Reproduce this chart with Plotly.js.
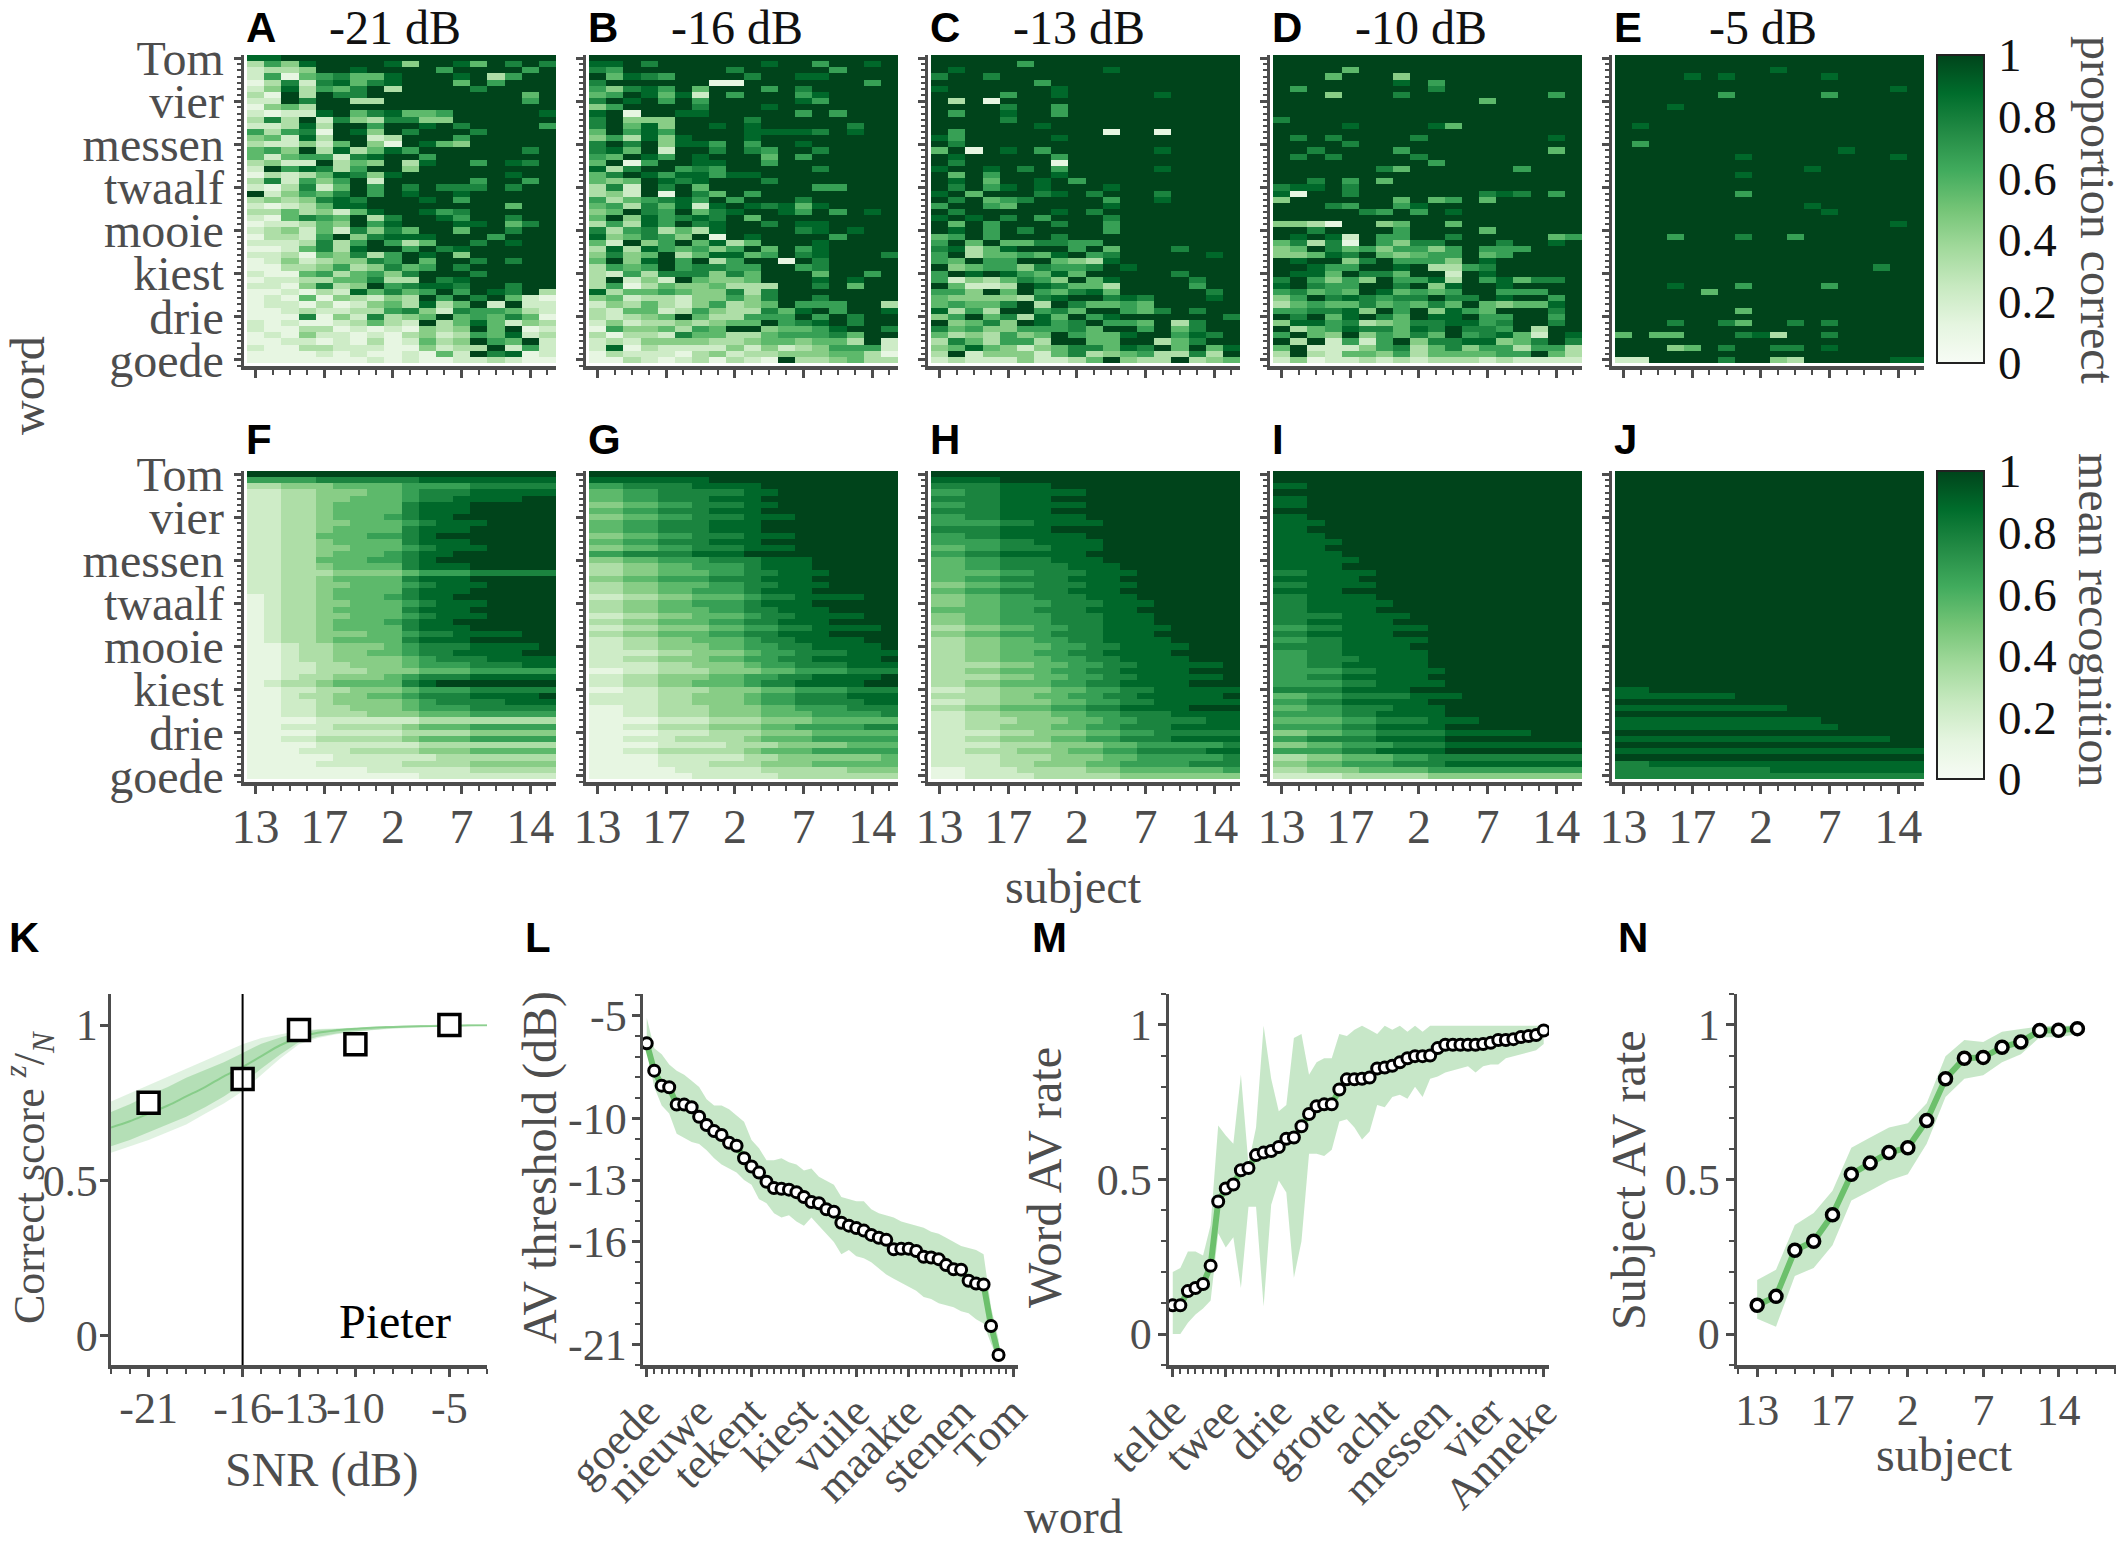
<!DOCTYPE html>
<html><head><meta charset="utf-8">
<script src="https://cdn.plot.ly/plotly-3.0.1.min.js"></script>
<style>html,body{margin:0;padding:0;background:#fff}#chart{width:2124px;height:1543px}</style>
</head><body><div id="chart"></div>
<script>
const W = 2124, H = 1543;

// ---------- labels ----------
const snrTitles = ['-21 dB', '-16 dB', '-13 dB', '-10 dB', '-5 dB'];
const topLetters = ['A', 'B', 'C', 'D', 'E'];
const botLetters = ['F', 'G', 'H', 'I', 'J'];
const heatWordTicks = ['goede', 'drie', 'kiest', 'mooie', 'twaalf', 'messen', 'vier', 'Tom'];
const wordTickPos = [1, 8, 15, 22, 29, 36, 43, 50];
const subjectTicks = ['13', '17', '2', '7', '14'];
const subjectTickPos = [1, 5, 9, 13, 17];
const thresholdWordTicks = ['goede', 'nieuwe', 'tekent', 'kiest', 'vuile', 'maakte', 'stenen', 'Tom'];
const rateWordTicks = ['telde', 'twee', 'drie', 'grote', 'acht', 'messen', 'vier', 'Anneke'];

// ---------- heatmap data: rows from top (Tom) to bottom (goede), 18 subjects, digit d = d/9 ----------
const propA = [
'889999 999999 999999','364899 998499 859797','233499 899996 999969','261567 558999 893699','137278 578999 596999',
'248365 793999 979999','319397 799999 999959','229799 339999 999969','145399 999999 999999','212289 578556 999998',
'373927 437744 999999','223839 969989 799996','636719 849799 979999','452839 923999 699999','322425 941985 499999',
'564938 358699 999979','525662 789969 999999','342293 549389 969879','296873 699499 999999','132358 748999 999899',
'372646 929999 969969','213725 969797 779799','924657 969899 899999','343478 799989 699999','212358 899999 999599',
'335342 589986 799999','215765 937998 699799','122354 968999 889579','234252 747599 599799','133269 478889 996999',
'222373 696359 979899','112573 899697 899999','223154 736989 499999','124234 476959 979799','113346 347569 799999',
'211563 564799 979999','122335 573397 899999','221473 496788 799799','112132 857569 698793','121514 324396 979521',
'122131 245383 592922','112322 336742 766532','111714 273459 565751','212112 353293 585243','211331 212143 495912',
'121422 121342 365823','112212 131253 496592','211332 221142 339262','111121 211215 297812','111111 121211 223211'];
const propB = [
'999999 999999 999999','889799 999989 969989','769999 997999 996999','958769 999799 889999','799999 911999 999969',
'647869 599969 799999','569858 296999 689999','798969 699999 869999','469999 799989 999999','891998 899999 696999',
'794449 999799 999999','795849 989899 999799','596869 999888 879899','463848 999899 999999','797948 869699 899999',
'785929 979769 979999','659869 899959 699999','591699 889969 999999','837996 769999 979999','579868 868899 999999',
'545987 899979 999999','372979 599999 966999','342919 759699 999999','635678 696999 799999','563758 289878 589999',
'459769 578998 696989','594867 879599 999999','363869 789979 889999','736735 389999 789899','845764 919899 996999',
'529469 583599 989999','383865 646959 689999','474593 588569 789997','594896 936991 979999','365696 776699 679999',
'326377 747599 959969','392429 544599 989899','361354 453339 979599','835565 447379 999999','452332 446479 979999',
'243532 463459 666993','325523 643375 896998','323459 533666 969799','242334 345596 789799','164453 659945 568997',
'313327 553356 667599','232444 433455 455392','281322 224242 346662','132221 342334 445531','113212 313219 334533'];
const propC = [
'999999 999999 999999','999996 999999 999999','989999 999989 999999','799799 999999 999999','999999 699999 999999',
'899999 989999 999999','999969 989999 989999','939199 999999 999999','999979 969999 999999','969989 969999 999999',
'999979 999999 999999','999999 899999 999999','969999 999919 919999','869999 989999 999999','979999 999999 999999',
'591989 699999 989999','989999 969999 999999','979999 919999 999999','899897 969999 989999','959699 989999 999999',
'989599 896999 999999','979689 899989 999999','895999 789799 979999','979567 999969 989999','699659 999989 999999',
'979999 989799 999999','898979 699979 999999','959699 979969 999999','989697 999969 999999','569699 979999 999999',
'695955 776699 999999','783589 996959 997999','693556 589679 999989','659669 954389 999999','945664 766798 999999',
'698986 585999 997999','624357 649589 999799','952239 875539 999699','664959 657859 999979','544443 789978 799989',
'565579 397556 599999','836399 675996 579799','469573 859689 999997','945749 867966 593799','756446 667599 695799',
'534364 596558 996879','375366 399559 935799','458542 457758 795958','392444 257345 633739','232224 223594 339345'];
const propD = [
'999999 999999 999999','999999 999999 999999','999959 999999 999999','999599 949999 999999','999999 989699 999999',
'969999 999799 999999','999499 979999 999969','999999 999999 599999','999999 999999 999999','999999 999999 999999',
'799999 999999 999999','999989 999859 999999','999999 999999 999999','979799 997999 999989','999979 999999 999999',
'997999 969999 999959','979799 997999 999999','999999 999699 999999','999999 759999 996999','999999 999999 999999',
'997969 599999 999999','788979 999999 999999','819979 999999 787969','499999 959569 599999','999769 968999 999999',
'999997 696989 999999','999999 999999 999999','443199 459959 999999','997999 969999 599999','989829 669979 999956',
'573719 647799 979989','459756 466469 666999','445879 545669 569999','989947 966649 899999','998669 989336 799999',
'988597 759929 899999','796464 966839 685779','897669 979489 989999','675659 856569 966699','469787 677977 989969',
'356557 565759 545589','667784 969486 599979','979589 759889 669969','488673 457788 679979','935687 758797 769399',
'695494 657596 785298','939262 694778 845797','592224 673574 663663','393255 463555 566953','241223 232333 232222'];
const propE = [
'999999 999999 999999','999999 999999 999999','999999 999899 999999','999989 899999 899999','999999 999999 999999',
'999999 999999 999989','999999 699999 699999','999999 999999 999999','999899 999999 999999','999999 999999 999999',
'999999 999999 999999','989999 999999 999999','999999 999999 999999','999999 999999 999999','969999 999999 999999',
'999999 999999 989999','999999 989999 999989','999999 999999 999999','999999 999998 999999','999999 989999 999999',
'999999 999999 999999','999999 999999 999999','999999 969999 999999','999999 999999 999999','999999 999998 999999',
'999999 999999 899999','999999 999999 999999','999999 999999 999989','999999 999999 999999','999699 979969 999999',
'999999 999999 999999','999999 999999 999999','999999 999999 999999','999999 999999 999999','999999 999999 999799',
'999999 999999 999999','999999 999999 999999','999899 969999 699999','999995 999999 999999','999999 999999 999999',
'999999 999999 999999','999999 959999 999999','999999 999999 999999','999799 759979 799999','999999 999999 999999',
'595599 978399 799999','999999 999999 999999','999459 799779 899999','999999 999999 999999','229999 799439 999988'];

// model means: subjects grouped as 2|2|1|4|1|1|2|2|3 columns
const meanF = [
'99 99 9 9999 9 9 99 99 999','66 66 7 7777 7 8 88 88 888','33 44 4 5555 6 6 66 77 777','22 33 4 4455 6 7 77 88 888','22 33 4 4555 6 7 78 88 899',
'22 33 4 5555 7 8 88 99 999','22 33 4 5555 7 8 88 99 999','22 33 4 5556 7 8 89 99 999','22 33 4 4555 6 7 88 89 999','22 33 4 5555 7 8 88 99 999',
'22 33 5 5566 7 8 99 99 999','22 33 4 5555 7 8 88 99 999','22 33 4 4555 6 7 88 89 999','22 33 4 5556 7 8 89 99 999','22 33 5 5566 7 8 99 99 999',
'22 33 4 5555 7 8 88 99 999','22 33 3 4444 5 6 66 77 777','22 33 4 5555 7 8 88 99 999','22 33 4 4555 6 7 88 89 999','22 33 4 5555 7 8 88 99 999',
'12 33 4 5556 7 8 89 99 999','12 33 4 4555 6 7 88 89 999','12 33 4 5555 7 8 88 99 999','12 33 4 4555 6 7 88 89 999','12 33 4 5556 7 8 89 99 999',
'12 33 4 5555 7 8 88 99 999','12 33 4 4455 6 7 78 88 899','12 33 4 5555 7 8 88 99 999','11 23 3 4445 6 7 77 88 889','11 23 3 4455 6 7 78 88 899',
'11 23 3 4444 5 6 77 78 888','11 22 3 3444 5 6 66 77 788','11 22 3 3344 4 5 55 66 666','11 23 3 4445 6 7 77 88 888','12 33 4 5555 7 8 99 99 999',
'11 22 3 3444 5 6 66 77 777','11 23 3 4455 6 7 77 88 889','11 22 3 4444 5 6 77 77 888','11 22 3 3444 5 6 66 77 777','11 22 3 3344 4 5 55 66 666',
'11 11 2 2222 2 3 33 33 333','11 22 2 3333 4 5 55 66 666','11 11 2 2222 3 3 33 44 444','11 22 3 3333 4 5 55 66 666','11 11 2 2222 2 3 33 33 333',
'11 12 2 2333 3 4 44 55 555','11 11 1 2222 2 2 33 33 333','11 11 2 2222 3 3 33 44 444','11 11 1 1122 2 2 22 33 333','11 11 1 1111 1 2 22 22 222'];
const meanG = [
'99 99 9 9999 9 9 99 99 999','88 88 8 8899 9 9 99 99 999','66 77 7 7888 8 9 99 99 999','55 66 7 7777 8 8 99 99 999','55 66 7 7788 8 9 99 99 999',
'44 55 6 6777 8 8 99 99 999','55 66 7 7788 8 9 99 99 999','44 55 6 6777 8 8 89 99 999','55 66 7 7788 8 9 99 99 999','55 66 7 7788 8 9 99 99 999',
'44 55 6 6777 8 8 89 99 999','55 66 7 7788 8 9 99 99 999','44 55 6 6777 8 8 89 99 999','66 77 7 7888 9 9 99 99 999','44 55 6 6677 7 8 88 99 999',
'33 44 5 5666 7 8 88 99 999','33 44 5 5566 7 7 88 89 999','44 55 6 6677 7 8 88 99 999','33 44 5 5566 7 7 88 89 999','33 44 5 5666 7 8 88 99 999',
'22 33 4 4555 6 7 78 88 899','33 44 5 5666 7 8 88 99 999','33 44 5 5566 7 7 88 89 999','22 33 4 4555 6 7 78 88 899','33 44 5 5566 7 7 88 89 999',
'22 33 4 4455 6 6 77 88 889','33 44 5 5566 7 7 88 89 999','22 33 4 4555 6 7 78 88 899','22 33 4 4455 6 6 77 88 889','22 22 3 3444 5 6 67 77 888',
'22 33 4 4455 6 6 77 88 889','22 22 3 3444 5 6 67 77 888','11 22 3 3344 4 5 56 66 777','22 33 4 4455 6 6 77 88 889','22 33 4 4555 6 7 78 88 899',
'11 22 3 3344 4 5 56 66 777','22 22 3 3444 5 6 67 77 888','22 22 3 3444 5 6 67 77 788','11 22 3 3344 4 5 56 66 777','11 22 3 3344 4 5 55 66 667',
'11 11 2 2233 3 4 44 55 555','11 22 3 3344 4 5 56 66 677','11 11 2 2233 3 4 44 55 555','11 22 2 3333 4 5 55 66 666','11 11 2 2223 3 3 44 44 555',
'11 22 3 3333 4 5 55 66 666','11 11 2 2222 3 3 44 44 445','11 11 2 2233 3 4 44 55 555','11 11 1 2222 2 3 33 33 444','11 11 1 1222 2 2 33 33 333'];
const meanH = [
'99 99 9 9999 9 9 99 99 999','88 88 9 9999 9 9 99 99 999','77 77 8 8899 9 9 99 99 999','66 77 8 8888 9 9 99 99 999','77 77 8 8899 9 9 99 99 999',
'66 77 8 8888 9 9 99 99 999','77 77 8 8899 9 9 99 99 999','66 77 8 8888 9 9 99 99 999','66 66 7 7888 8 9 99 99 999','77 77 8 8899 9 9 99 99 999',
'66 77 8 8888 9 9 99 99 999','66 66 7 7888 8 9 99 99 999','55 66 7 7788 8 9 99 99 999','66 77 8 8888 9 9 99 99 999','55 66 7 7788 8 9 99 99 999',
'55 66 7 7778 8 8 99 99 999','55 55 6 6777 8 8 89 99 999','55 66 7 7778 8 8 99 99 999','44 55 6 6777 8 8 89 99 999','55 66 7 7778 8 8 99 99 999',
'44 55 6 6777 8 8 89 99 999','44 55 6 6677 7 8 88 99 999','55 55 6 6777 8 8 89 99 999','44 55 6 6677 7 8 88 99 999','44 55 6 6677 7 8 88 99 999',
'33 44 5 5667 7 8 88 89 999','44 55 6 6677 7 8 88 99 999','33 44 5 5667 7 8 88 89 999','33 44 5 5566 7 7 88 88 999','33 44 5 5667 7 8 88 89 999',
'33 44 5 5566 7 7 88 88 999','33 33 4 4556 6 7 78 88 889','33 44 5 5566 7 7 88 88 999','33 33 4 4556 6 7 78 88 889','33 44 5 5566 7 7 88 88 999',
'22 33 4 4455 6 6 77 88 888','33 33 4 4556 6 7 78 88 889','22 33 4 4455 6 6 77 88 888','33 44 5 5566 7 7 88 88 999','22 33 4 4455 6 6 77 78 888',
'22 33 3 4445 5 6 67 77 788','22 33 4 4455 6 6 77 78 888','22 22 3 3444 5 5 66 77 777','22 33 4 4455 6 6 77 78 888','22 22 3 3344 4 5 56 66 667',
'22 33 3 4445 5 6 67 77 788','22 22 3 3344 4 5 56 66 667','22 22 3 3444 5 5 66 66 777','11 22 2 3333 4 4 55 55 556','11 22 2 2333 3 3 44 44 444'];
const meanI = [
'99 99 9 9999 9 9 99 99 999','99 99 9 9999 9 9 99 99 999','88 99 9 9999 9 9 99 99 999','99 99 9 9999 9 9 99 99 999','88 99 9 9999 9 9 99 99 999',
'88 99 9 9999 9 9 99 99 999','99 99 9 9999 9 9 99 99 999','88 99 9 9999 9 9 99 99 999','88 89 9 9999 9 9 99 99 999','88 99 9 9999 9 9 99 99 999',
'88 89 9 9999 9 9 99 99 999','88 88 9 9999 9 9 99 99 999','88 89 9 9999 9 9 99 99 999','88 88 9 9999 9 9 99 99 999','88 88 8 9999 9 9 99 99 999',
'88 88 9 9999 9 9 99 99 999','77 88 8 8999 9 9 99 99 999','88 88 8 9999 9 9 99 99 999','77 88 8 8999 9 9 99 99 999','88 88 9 9999 9 9 99 99 999',
'77 88 8 8999 9 9 99 99 999','77 88 8 8899 9 9 99 99 999','77 88 8 8999 9 9 99 99 999','77 77 8 8889 9 9 99 99 999','77 88 8 8899 9 9 99 99 999',
'66 77 8 8888 9 9 99 99 999','77 88 8 8899 9 9 99 99 999','66 77 8 8888 9 9 99 99 999','77 77 8 8889 9 9 99 99 999','66 77 8 8888 9 9 99 99 999',
'66 77 7 8888 9 9 99 99 999','66 77 8 8888 9 9 99 99 999','66 66 7 7888 8 9 99 99 999','66 77 8 8888 9 9 99 99 999','66 66 7 7888 8 9 99 99 999',
'77 77 8 8889 9 9 99 99 999','55 66 7 7778 8 8 99 99 999','66 77 8 8888 9 9 99 99 999','55 66 7 7788 8 9 99 99 999','66 66 7 7888 8 9 99 99 999',
'55 55 6 6777 8 8 89 99 999','66 66 7 7888 8 9 99 99 999','44 55 6 6777 7 8 88 88 999','66 77 7 7888 8 9 99 99 999','44 55 6 6677 7 8 88 88 888',
'66 66 7 7888 8 9 99 99 999','33 44 5 5566 7 7 77 77 777','44 55 6 6677 7 8 88 88 888','33 44 4 5555 6 6 66 66 666','22 22 3 3333 4 4 44 44 444'];
const meanJ = [
'99 99 9 9999 9 9 99 99 999','99 99 9 9999 9 9 99 99 999','99 99 9 9999 9 9 99 99 999','99 99 9 9999 9 9 99 99 999','99 99 9 9999 9 9 99 99 999',
'99 99 9 9999 9 9 99 99 999','99 99 9 9999 9 9 99 99 999','99 99 9 9999 9 9 99 99 999','99 99 9 9999 9 9 99 99 999','99 99 9 9999 9 9 99 99 999',
'99 99 9 9999 9 9 99 99 999','99 99 9 9999 9 9 99 99 999','99 99 9 9999 9 9 99 99 999','99 99 9 9999 9 9 99 99 999','99 99 9 9999 9 9 99 99 999',
'99 99 9 9999 9 9 99 99 999','99 99 9 9999 9 9 99 99 999','99 99 9 9999 9 9 99 99 999','99 99 9 9999 9 9 99 99 999','99 99 9 9999 9 9 99 99 999',
'99 99 9 9999 9 9 99 99 999','99 99 9 9999 9 9 99 99 999','99 99 9 9999 9 9 99 99 999','99 99 9 9999 9 9 99 99 999','99 99 9 9999 9 9 99 99 999',
'99 99 9 9999 9 9 99 99 999','99 99 9 9999 9 9 99 99 999','99 99 9 9999 9 9 99 99 999','99 99 9 9999 9 9 99 99 999','99 99 9 9999 9 9 99 99 999',
'99 99 9 9999 9 9 99 99 999','99 99 9 9999 9 9 99 99 999','99 99 9 9999 9 9 99 99 999','99 99 9 9999 9 9 99 99 999','99 99 9 9999 9 9 99 99 999',
'88 99 9 9999 9 9 99 99 999','88 88 8 8899 9 9 99 99 999','99 99 9 9999 9 9 99 99 999','88 88 8 8888 8 9 99 99 999','99 99 9 9999 9 9 99 99 999',
'88 88 8 8888 8 8 89 99 999','88 88 8 8888 8 8 88 99 999','99 99 9 9999 9 9 99 99 999','88 88 8 8888 8 8 88 88 899','99 99 9 9999 9 9 99 99 999',
'88 88 8 8888 8 8 88 88 888','99 99 9 9999 9 9 99 99 999','77 88 8 8888 8 8 88 88 888','77 77 7 7777 8 8 88 88 888','77 77 7 7777 7 7 77 77 777'];

// ---------- panel K ----------
const snrK = [-21, -16, -13, -10, -5];
const scoreK = [0.75, 0.826, 0.984, 0.938, 1.0];
const snrCurve = [-23,-22,-21,-20,-19,-18,-17,-16,-15,-14,-13,-12,-11,-10,-9,-8,-7,-6,-5,-4,-3];
const curveOuterUp = [0.754,0.78,0.807,0.833,0.86,0.886,0.91,0.938,0.958,0.97,0.982,0.987,0.99,0.992,0.994,0.996,0.997,0.998,0.999,0.999,1.0];
const curveOuterLo = [0.589,0.61,0.63,0.655,0.68,0.714,0.747,0.787,0.84,0.892,0.938,0.958,0.97,0.978,0.984,0.988,0.991,0.993,0.995,0.996,0.997];
const curveInnerUp = [0.72,0.745,0.775,0.80,0.83,0.855,0.88,0.91,0.94,0.96,0.977,0.985,0.988,0.991,0.993,0.995,0.996,0.997,0.998,0.999,0.999];
const curveInnerLo = [0.61,0.63,0.655,0.68,0.705,0.735,0.77,0.81,0.86,0.905,0.945,0.962,0.973,0.98,0.986,0.99,0.992,0.994,0.996,0.997,0.998];
const curveMid = [0.67,0.69,0.715,0.74,0.77,0.80,0.835,0.865,0.90,0.935,0.96,0.975,0.983,0.988,0.992,0.994,0.996,0.997,0.998,0.999,0.999];

// ---------- panel L ----------
const thrMedian = [-6.35,-7.68,-8.41,-8.49,-9.33,-9.33,-9.46,-9.92,-10.32,-10.62,-10.81,-11.19,-11.33,-11.94,-12.34,-12.64,-13.08,-13.39,-13.43,-13.47,-13.59,-13.83,-14.07,-14.13,-14.42,-14.54,-15.08,-15.22,-15.34,-15.46,-15.67,-15.81,-15.91,-16.37,-16.35,-16.35,-16.45,-16.73,-16.77,-16.85,-17.14,-17.34,-17.36,-17.9,-18.04,-18.08,-20.1,-21.51];
const thrUpper = [-5.1,-6.59,-6.88,-7.38,-7.68,-7.88,-8.17,-8.47,-9.07,-9.37,-9.37,-9.56,-9.86,-10.16,-11.05,-11.45,-12.04,-12.04,-11.94,-12.14,-12.24,-12.54,-12.44,-12.84,-13.04,-13.23,-13.83,-13.93,-14.03,-14.03,-14.42,-14.62,-14.72,-14.82,-15.02,-15.12,-15.22,-15.32,-15.52,-15.62,-15.81,-16.01,-16.21,-16.31,-16.41,-16.61,-19.19,-20.77];
const thrLower = [-6.69,-8.47,-9.37,-9.76,-10.75,-10.95,-11.15,-11.25,-11.55,-11.94,-12.24,-12.44,-12.64,-13.0,-13.23,-13.93,-14.13,-14.62,-14.82,-14.72,-15.02,-15.22,-14.82,-15.22,-15.62,-16.01,-16.61,-16.41,-16.71,-16.81,-17.0,-17.3,-17.6,-17.8,-18.0,-18.19,-18.39,-18.69,-18.79,-18.99,-19.09,-19.19,-19.39,-19.48,-19.78,-19.98,-20.97,-21.77];

// ---------- panel M ----------
const wordRate = [0.093,0.093,0.139,0.149,0.162,0.221,0.429,0.471,0.484,0.53,0.537,0.579,0.587,0.592,0.605,0.632,0.636,0.672,0.712,0.737,0.743,0.743,0.791,0.824,0.824,0.826,0.83,0.859,0.862,0.868,0.879,0.892,0.899,0.899,0.901,0.925,0.936,0.936,0.936,0.936,0.936,0.938,0.942,0.951,0.951,0.954,0.961,0.964,0.967,0.982];
const wordRateUp = [0.201,0.214,0.267,0.267,0.254,0.353,0.675,0.642,0.616,0.839,0.55,0.668,0.997,0.826,0.721,0.741,0.958,0.971,0.839,0.879,0.892,0.892,0.971,0.964,0.984,0.997,0.984,0.971,0.997,0.984,0.997,0.978,0.997,0.978,0.997,0.997,0.997,0.997,0.997,0.997,0.997,0.997,0.997,0.997,0.997,0.997,0.997,0.997,0.997,0.997];
const wordRateLo = [0,0,0.037,0.063,0.083,0.109,0.326,0.28,0.313,0.149,0.412,0.412,0.089,0.418,0.497,0.458,0.182,0.3,0.583,0.583,0.576,0.596,0.688,0.695,0.668,0.629,0.655,0.741,0.734,0.767,0.774,0.761,0.8,0.767,0.826,0.833,0.846,0.853,0.859,0.866,0.846,0.866,0.872,0.872,0.892,0.899,0.905,0.912,0.918,0.938];

// ---------- panel N ----------
const subjRate = [0.093,0.122,0.271,0.3,0.386,0.517,0.553,0.587,0.603,0.691,0.826,0.892,0.895,0.928,0.945,0.982,0.983,0.988];
const subjRateUp = [0.175,0.208,0.353,0.392,0.464,0.603,0.636,0.668,0.682,0.747,0.899,0.951,0.945,0.978,0.987,0.995,0.997,0.997];
const subjRateLo = [0.05,0.024,0.188,0.214,0.287,0.432,0.464,0.497,0.517,0.616,0.767,0.826,0.837,0.879,0.905,0.96,0.96,0.97];

// ---------- styling ----------
const SERIF = 'Liberation Serif, Times New Roman, serif';
const SANS = 'Liberation Sans, Arial, sans-serif';
const AX = '#4d4d4d';
const GREENS = [[0,'#f7fcf5'],[0.125,'#e5f5e0'],[0.25,'#c7e9c0'],[0.375,'#a1d99b'],[0.5,'#74c476'],[0.625,'#41ab5d'],[0.75,'#238b45'],[0.875,'#006d2c'],[1,'#00441b']];
const BAND = 'rgba(116,196,118,0.40)';
const LINEG = 'rgb(108,192,108)';

const px = v => v / W;
const py = v => 1 - v / H;
const range1 = n => Array.from({length: n}, (_, i) => i + 1);

const toZ = rows => rows.map(s => s.replace(/ /g, '').split('').map(c => Number(c) / 9));
const rowsY = range1(50).reverse();
const cols = range1(18);

const topSets = [propA, propB, propC, propD, propE];
const botSets = [meanF, meanG, meanH, meanI, meanJ];
const cellLeft = [247, 589, 931, 1273, 1615];
const cellW = 309;

const data = [];
const layout = {
  width: W, height: H, margin: {l: 0, r: 0, t: 0, b: 0},
  paper_bgcolor: '#fff', plot_bgcolor: 'rgba(0,0,0,0)', showlegend: false,
  annotations: [], shapes: []
};

function baseAxis(extra) {
  return Object.assign({
    showgrid: false, zeroline: false, showline: true, linecolor: AX, linewidth: 3.5,
    ticks: 'outside', tickcolor: AX, tickwidth: 3, ticklen: 8, tickangle: 0,
    tickfont: {family: SERIF, size: 44, color: AX}, fixedrange: true
  }, extra);
}
function minor(tick0, dtick, len) {
  return {ticks: 'outside', ticklen: len || 5, tickwidth: 2, tickcolor: AX, tickmode: 'linear', tick0: tick0, dtick: dtick, showgrid: false};
}

function colorbar(topPx) {
  return {
    x: px(1937), xanchor: 'left', xpad: 0, ypad: 0,
    y: py(topPx), yanchor: 'top', len: 308 / H, lenmode: 'fraction',
    thickness: 47, thicknessmode: 'pixels', outlinewidth: 2, outlinecolor: '#222',
    tickmode: 'array', tickvals: [0, 0.2, 0.4, 0.6, 0.8, 1], ticktext: ['0', '0.2', '0.4', '0.6', '0.8', '1'],
    ticks: 'outside', ticklen: 4, tickcolor: 'rgba(0,0,0,0)',
    tickfont: {family: SERIF, size: 47, color: '#111'}
  };
}

for (let row = 0; row < 2; row++) {
  const sets = row === 0 ? topSets : botSets;
  const yTop = row === 0 ? 55 : 471;
  const yBot = row === 0 ? 366 : 782;
  for (let i = 0; i < 5; i++) {
    const n = row * 5 + i + 1;
    const L = cellLeft[i];
    data.push({
      type: 'heatmap', z: toZ(sets[i]), x: cols, y: rowsY,
      xaxis: 'x' + n, yaxis: 'y' + n, colorscale: GREENS, zmin: 0, zmax: 1,
      zsmooth: false, hoverinfo: 'skip',
      showscale: i === 4, colorbar: colorbar(yTop)
    });
    layout['xaxis' + n] = baseAxis({
      domain: [px(L - 3), px(L + cellW)], range: [0.325, 18.5], anchor: 'y' + n,
      tickmode: 'array', tickvals: subjectTickPos, ticktext: subjectTicks,
      showticklabels: row === 1, ticklen: 8, tickfont: {family: SERIF, size: 48, color: AX},
      ticklabelstandoff: -8,
      minor: minor(1, 1, 5)
    });
    layout['yaxis' + n] = baseAxis({
      domain: [py(yBot), py(yTop)], range: [0, 50.5], anchor: 'x' + n,
      tickmode: 'array', tickvals: wordTickPos, ticktext: heatWordTicks,
      showticklabels: i === 0, ticklen: 7, tickfont: {family: SERIF, size: 48, color: AX},
      minor: minor(1, 1, 4)
    });
    layout.annotations.push({
      xref: 'paper', yref: 'paper', x: px(L - 3), y: py(row === 0 ? 27 : 439),
      xanchor: 'left', yanchor: 'middle', showarrow: false,
      text: '<b>' + (row === 0 ? topLetters[i] : botLetters[i]) + '</b>',
      font: {family: SANS, size: 42, color: '#000'}
    });
    if (row === 0) {
      layout.annotations.push({
        xref: 'paper', yref: 'paper', x: px(L + cellW / 2 - 7), y: py(27),
        xanchor: 'center', yanchor: 'middle', showarrow: false,
        text: snrTitles[i], font: {family: SERIF, size: 48, color: '#111'}
      });
    }
  }
}

// ---------- bottom panels ----------
const yDomBottom = [py(1365), py(994)];
const rateTicks = {tickmode: 'array', tickvals: [0, 0.5, 1], ticktext: ['0', '0.5', '1']};

// K
layout.xaxis11 = baseAxis({domain: [px(111), px(487)], range: [-23, -3], anchor: 'y11',
  tickmode: 'array', tickvals: [-21, -16, -13, -10, -5], ticktext: ['-21', '-16', '-13', '-10', '-5'],
  tickangle: 0, ticklabelstandoff: -6, minor: minor(-23, 1, 5)});
layout.yaxis11 = baseAxis(Object.assign({domain: yDomBottom, range: [-0.095, 1.1], anchor: 'x11', ticklabelstandoff: -7}, rateTicks));
data.push({x: snrCurve, y: curveOuterUp, xaxis: 'x11', yaxis: 'y11', mode: 'lines', line: {width: 0}, hoverinfo: 'skip'});
data.push({x: snrCurve, y: curveOuterLo, xaxis: 'x11', yaxis: 'y11', mode: 'lines', line: {width: 0}, fill: 'tonexty', fillcolor: 'rgba(116,196,118,0.22)', hoverinfo: 'skip'});
data.push({x: snrCurve, y: curveInnerUp, xaxis: 'x11', yaxis: 'y11', mode: 'lines', line: {width: 0}, hoverinfo: 'skip'});
data.push({x: snrCurve, y: curveInnerLo, xaxis: 'x11', yaxis: 'y11', mode: 'lines', line: {width: 0}, fill: 'tonexty', fillcolor: 'rgba(116,196,118,0.40)', hoverinfo: 'skip'});
data.push({x: snrCurve, y: curveMid, xaxis: 'x11', yaxis: 'y11', mode: 'lines', line: {width: 2, color: 'rgba(116,196,118,0.7)', shape: 'spline'}, hoverinfo: 'skip'});
data.push({x: snrK, y: scoreK, xaxis: 'x11', yaxis: 'y11', mode: 'markers',
  marker: {symbol: 'square', size: 21, color: '#fff', line: {color: '#000', width: 3.5}}, hoverinfo: 'skip'});
layout.shapes.push({type: 'line', xref: 'x11', yref: 'y11', x0: -16, x1: -16, y0: -0.095, y1: 1.1, line: {color: '#000', width: 2}});

// L
const wordIdxL = range1(thrMedian.length);
layout.xaxis12 = baseAxis({domain: [px(643), px(1018)], range: [0.5, 50.6], anchor: 'y12',
  tickmode: 'array', tickvals: wordTickPos, ticktext: thresholdWordTicks, tickangle: -45,
  ticklabelstandoff: -8, minor: minor(1, 1, 5)});
layout.yaxis12 = baseAxis({domain: yDomBottom, range: [-22, -3.95], anchor: 'x12',
  tickmode: 'array', tickvals: [-21, -16, -13, -10, -5], ticktext: ['-21', '-16', '-13', '-10', '-5'],
  ticklabelstandoff: -4, minor: minor(-22, 1, 5)});
data.push({x: wordIdxL, y: thrUpper, xaxis: 'x12', yaxis: 'y12', mode: 'lines', line: {width: 0}, hoverinfo: 'skip'});
data.push({x: wordIdxL, y: thrLower, xaxis: 'x12', yaxis: 'y12', mode: 'lines', line: {width: 0}, fill: 'tonexty', fillcolor: BAND, hoverinfo: 'skip'});
data.push({x: wordIdxL, y: thrMedian, xaxis: 'x12', yaxis: 'y12', mode: 'lines', line: {width: 6, color: LINEG}, hoverinfo: 'skip'});
data.push({x: wordIdxL, y: thrMedian, xaxis: 'x12', yaxis: 'y12', mode: 'markers',
  marker: {symbol: 'circle', size: 11, color: '#fff', line: {color: '#000', width: 3}}, hoverinfo: 'skip'});

// M
const wordIdxM = range1(wordRate.length);
layout.xaxis13 = baseAxis({domain: [px(1169), px(1549)], range: [0.5, 50.7], anchor: 'y13',
  tickmode: 'array', tickvals: wordTickPos, ticktext: rateWordTicks, tickangle: -45,
  ticklabelstandoff: -8, minor: minor(1, 1, 5)});
layout.yaxis13 = baseAxis(Object.assign({domain: yDomBottom, range: [-0.1, 1.1], anchor: 'x13', ticklabelstandoff: -3, minor: minor(0, 0.1, 5)}, rateTicks));
data.push({x: wordIdxM, y: wordRateUp, xaxis: 'x13', yaxis: 'y13', mode: 'lines', line: {width: 0}, hoverinfo: 'skip'});
data.push({x: wordIdxM, y: wordRateLo, xaxis: 'x13', yaxis: 'y13', mode: 'lines', line: {width: 0}, fill: 'tonexty', fillcolor: BAND, hoverinfo: 'skip'});
data.push({x: wordIdxM, y: wordRate, xaxis: 'x13', yaxis: 'y13', mode: 'lines', line: {width: 6, color: LINEG}, hoverinfo: 'skip'});
data.push({x: wordIdxM, y: wordRate, xaxis: 'x13', yaxis: 'y13', mode: 'markers',
  marker: {symbol: 'circle', size: 11, color: '#fff', line: {color: '#000', width: 3}}, hoverinfo: 'skip'});

// N
const subjIdx = range1(subjRate.length);
layout.xaxis14 = baseAxis({domain: [px(1737), px(2116)], range: [-0.07, 20.05], anchor: 'y14',
  tickmode: 'array', tickvals: subjectTickPos, ticktext: subjectTicks,
  ticklabelstandoff: -4, minor: minor(0, 1, 5)});
layout.yaxis14 = baseAxis(Object.assign({domain: yDomBottom, range: [-0.1, 1.1], anchor: 'x14', ticklabelstandoff: -3, minor: minor(0, 0.1, 5)}, rateTicks));
data.push({x: subjIdx, y: subjRateUp, xaxis: 'x14', yaxis: 'y14', mode: 'lines', line: {width: 0}, hoverinfo: 'skip'});
data.push({x: subjIdx, y: subjRateLo, xaxis: 'x14', yaxis: 'y14', mode: 'lines', line: {width: 0}, fill: 'tonexty', fillcolor: BAND, hoverinfo: 'skip'});
data.push({x: subjIdx, y: subjRate, xaxis: 'x14', yaxis: 'y14', mode: 'lines', line: {width: 6, color: LINEG}, hoverinfo: 'skip'});
data.push({x: subjIdx, y: subjRate, xaxis: 'x14', yaxis: 'y14', mode: 'markers',
  marker: {symbol: 'circle', size: 12, color: '#fff', line: {color: '#000', width: 3.5}}, hoverinfo: 'skip'});

// ---------- text annotations ----------
function note(text, x, y, opts) {
  layout.annotations.push(Object.assign({
    xref: 'paper', yref: 'paper', x: px(x), y: py(y), xanchor: 'center', yanchor: 'middle',
    showarrow: false, text: text, font: {family: SERIF, size: 48, color: AX}
  }, opts || {}));
}
note('word', 28, 386, {textangle: -90});
note('subject', 1073, 887);
note('proportion correct', 2097, 210, {textangle: 90});
note('mean recognition', 2095, 620, {textangle: 90});
[['K', 7], ['L', 523], ['M', 1030], ['N', 1616]].forEach(([t, x]) =>
  note('<b>' + t + '</b>', x, 938, {xanchor: 'left', font: {family: SANS, size: 42, color: '#000'}}));
note('Correct score <sup><i>z</i></sup>/<sub><i>N</i></sub>', 30, 1178, {textangle: -90, font: {family: SERIF, size: 44, color: AX}});
note('SNR (dB)', 321, 1470);
note('AV threshold (dB)', 540, 1168, {textangle: -90});
note('Word AV rate', 1044, 1178, {textangle: -90});
note('Subject AV rate', 1628, 1180, {textangle: -90});
note('word', 1073, 1516);
note('subject', 1944, 1454);
layout.annotations.push({xref: 'x11', yref: 'y11', x: -7.9, y: 0.045, xanchor: 'center', yanchor: 'middle',
  showarrow: false, text: 'Pieter', font: {family: SERIF, size: 48, color: '#000'}});

Plotly.newPlot('chart', data, layout, {staticPlot: true, displayModeBar: false});
</script>
</body></html>
